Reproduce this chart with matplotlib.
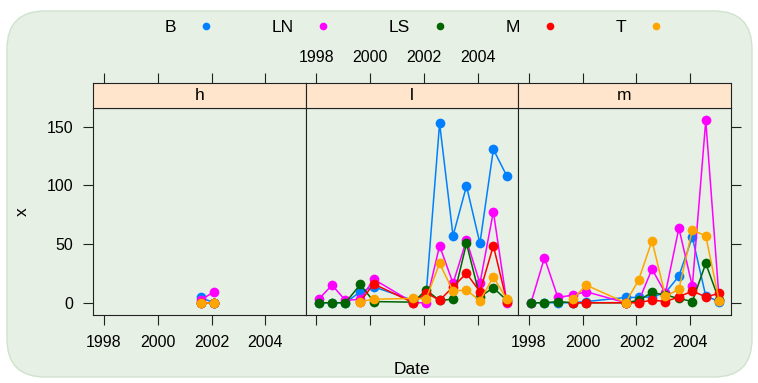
import numpy as np
import matplotlib
matplotlib.use("Agg")
import matplotlib.pyplot as plt
from matplotlib.lines import Line2D
from matplotlib.patches import FancyBboxPatch

plt.rcParams["font.family"] = ["Liberation Sans", "DejaVu Sans"]

nan = np.nan
dates = [1998.08, 1998.58, 1999.08, 1999.63, 2000.13, 2001.6, 2002.08,
         2002.58, 2003.08, 2003.58, 2004.08, 2004.58, 2005.08]
series = ["B", "LN", "LS", "M", "T"]
colors = ["#0080ff", "#ff00ff", "#006400", "#ff0000", "#ffa500"]
panels = ["h", "l", "m"]

h_B = [nan] * 5 + [4.5, 0] + [nan] * 6
h_LN = [nan] * 5 + [2, 9.5] + [nan] * 6
h_LS = [nan] * 5 + [0, 0] + [nan] * 6
h_M = [nan] * 5 + [0, 0] + [nan] * 6
h_T = [nan] * 5 + [0, 0] + [nan] * 6

l_B = [0, 0, 0, 9.4, 13.6, 2, 7, 153, 57, 99.5, 50.6, 130.7, 108]
l_LN = [3, 15, 2, 3, 20, 0, 0, 48.6, 16.5, 53.4, 16.5, 77.6, 0]
l_LS = [0, 0, 0, 15.6, 1, 0.5, 10.8, 2, 3, 50.5, 5, 12.8, 2]
l_M = [nan, nan, nan, 1, 16, 0, 8.5, 2, 13.6, 25, 9.4, 48.6, 1]
l_T = [nan, nan, nan, 1, 3, 3.7, 3.4, 33.5, 10, 10.8, 1.7, 22, 3]

m_B = [0, 0, 0, 0, 1, 4.5, 4.5, 5, 8.5, 22.7, 56, 5.7, 1]
m_LN = [0, 38.3, 4.5, 6.5, 9.4, 0, 1, 28.7, 8, 63.6, 14, 155.4, 2]
m_LS = [0, 0, 1, 0, 0, 0, 2, 8.8, 6.5, 3.7, 1, 33.5, 2]
m_M = [nan, nan, nan, 0, 0, 0, 0, 2.3, 1, 5, 10, 5, 8]
m_T = [nan, nan, nan, 3, 15, 0, 19.3, 52.8, 5.7, 11.4, 62, 57, 1.4]

data = {
    "h": [h_B, h_LN, h_LS, h_M, h_T],
    "l": [l_B, l_LN, l_LS, l_M, l_T],
    "m": [m_B, m_LN, m_LS, m_M, m_T],
}

xticks = [1998, 2000, 2002, 2004]
yticks = [0, 50, 100, 150]
xlim = (1997.6, 2005.5)
ylim = (-10.7, 166.2)

W, H = 758, 383
bg = "#e6f0e4"
strip_col = "#ffe5cc"

fig = plt.figure(figsize=(W / 100, H / 100), dpi=100)
fig.patch.set_facecolor("white")
fig.add_artist(FancyBboxPatch((7 / W, 6 / H), 745 / W, 366 / H,
                              boxstyle="round,pad=0,rounding_size=0.05",
                              transform=fig.transFigure, facecolor=bg,
                              edgecolor="#cfe3cc", linewidth=1, zorder=-10,
                              mutation_aspect=W / H))


def px_axes(x0, y0, x1, y1):
    return fig.add_axes([x0 / W, 1 - y1 / H, (x1 - x0) / W, (y1 - y0) / H])


left, right = 93.3, 730.5
pw = (right - left) / 3
fs = 11.5

for i, name in enumerate(panels):
    x0 = left + i * pw
    ax = px_axes(x0, 107.7, x0 + pw, 315.3)
    ax.set_facecolor(bg)
    for s, col, vals in zip(series, colors, data[name]):
        ax.plot(dates, vals, color=col, linewidth=1.1, marker="o",
                markersize=7, markeredgewidth=0, clip_on=False)
    ax.set_xlim(*xlim)
    ax.set_ylim(*ylim)
    ax.set_xticks(xticks)
    ax.set_yticks(yticks)
    ax.tick_params(direction="out", length=7.5, width=0.8, labelsize=fs,
                   pad=7, color="#222222")
    ax.tick_params(axis="x", bottom=True, top=False,
                   labelbottom=(name != "l"))
    ax.tick_params(axis="y", left=(i == 0), right=(i == 2),
                   labelleft=(i == 0), labelright=False)
    for sp in ax.spines.values():
        sp.set_linewidth(0.8)
        sp.set_color("#222222")

    st = px_axes(x0, 82.7, x0 + pw, 107.7)
    st.set_facecolor(strip_col)
    st.set_xlim(*xlim)
    st.set_ylim(0, 1)
    st.set_xticks(xticks)
    st.set_yticks([])
    st.tick_params(axis="x", direction="out", length=7.5, width=0.8,
                   labelsize=fs, pad=5, bottom=False, labelbottom=False,
                   top=True, labeltop=(name == "l"), color="#222222")
    for sp in st.spines.values():
        sp.set_linewidth(0.8)
        sp.set_color("#222222")
    st.text(0.5, 0.48, name, transform=st.transAxes, ha="center",
            va="center", fontsize=12.5)

fig.text(412 / W, 1 - 370 / H, "Date", ha="center", va="center", fontsize=12.5)
fig.text(22 / W, 1 - 212 / H, "x", ha="center", va="center", fontsize=12.5,
         rotation=90)

handles = [Line2D([], [], color=c, marker="o", linestyle="none",
                  markersize=5.5, markeredgewidth=0) for c in colors]
fig.legend(handles, series, ncol=5, markerfirst=False, frameon=False,
           loc="center", bbox_to_anchor=(414.5 / W, 1 - 27 / H),
           fontsize=12.5, handlelength=1.0, handletextpad=1.2,
           columnspacing=3.3, borderpad=0)

fig.savefig("out.png", dpi=100, facecolor="white")
